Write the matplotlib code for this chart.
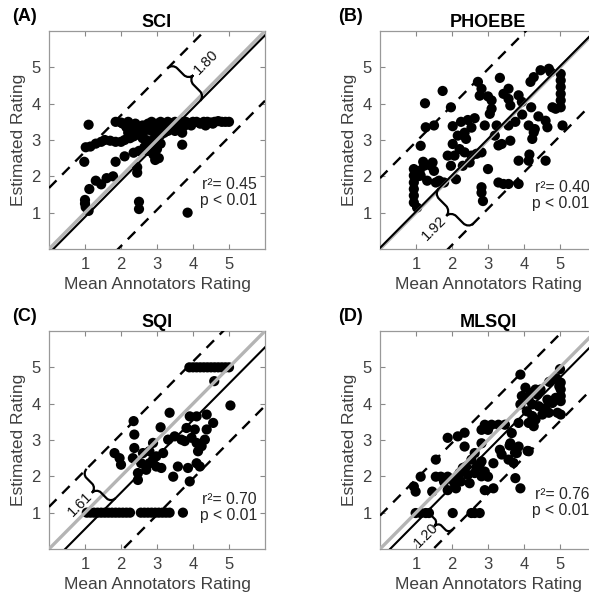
import numpy as np
import matplotlib
matplotlib.use("Agg")
import matplotlib.pyplot as plt
from matplotlib.path import Path
from matplotlib.patches import PathPatch

plt.rcParams['font.family'] = ['Liberation Sans', 'DejaVu Sans']

# ---------------- data ----------------
titles = ["SCI", "PHOEBE", "SQI", "MLSQI"]
panel_tags = ["(A)", "(B)", "(C)", "(D)"]
bias = [-0.12, 0.03, -0.45, -0.28]          # mean offset of estimate (solid black line)
limits = [1.80, 1.92, 1.61, 1.20]           # half width of agreement band (dashed)
r2_values = [0.45, 0.40, 0.70, 0.76]
p_text = ["p < 0.01"] * 4
ticks = [1, 2, 3, 4, 5]

sci_x = [1.85, 2.0, 2.2, 2.4, 2.6, 2.75, 2.85, 3.0, 3.1, 3.2, 3.3, 3.4, 3.5, 3.6, 3.7, 3.8, 3.9, 4.0, 4.1, 4.2,
         4.3, 4.4, 4.5, 4.6, 4.7, 4.8, 4.9, 5.0, 4.35, 4.55, 3.95, 3.75, 3.55, 3.35, 3.15, 2.95,
         1.02, 1.15, 1.3, 1.45, 1.55, 1.7, 1.85, 2.0, 2.1, 2.25, 2.35, 2.45, 2.55, 2.65, 2.75, 2.85, 2.95, 3.05,
         2.6, 2.7, 2.8, 2.9, 3.0, 3.2, 3.3, 3.4, 3.5, 3.6, 3.7, 2.5, 2.3, 2.15, 2.05, 2.2,
         1.1, 0.98, 1.85, 2.1, 2.35, 2.5, 2.65, 2.75, 2.9, 3.0, 3.1, 2.9, 3.7, 2.45, 2.45, 2.5, 2.5, 3.85,
         1.0, 1.0, 1.02, 1.1, 1.12, 1.3, 1.45, 1.6, 1.78, 2.95, 2.95, 3.05]
sci_y = [3.5, 3.48, 3.5, 3.45, 3.4, 3.45, 3.5, 3.45, 3.5, 3.42, 3.5, 3.45, 3.5, 3.45, 3.5, 3.5, 3.45, 3.5, 3.5, 3.45,
         3.5, 3.5, 3.48, 3.5, 3.52, 3.5, 3.5, 3.5, 3.4, 3.45, 3.4, 3.38, 3.35, 3.35, 3.3, 3.35,
         2.8, 2.82, 2.9, 2.95, 3.0, 2.98, 2.95, 2.95, 3.0, 3.05, 3.1, 3.15, 3.2, 3.25, 3.3, 3.25, 3.2, 3.3,
         3.05, 3.0, 2.95, 3.0, 3.1, 3.2, 3.25, 3.3, 3.25, 3.3, 3.2, 3.3, 3.3, 3.35, 3.45, 3.2,
         3.42, 2.4, 2.4, 2.55, 2.65, 2.7, 2.8, 2.7, 2.6, 2.75, 2.9, 2.8, 2.87, 2.25, 2.1, 1.3, 1.1, 1.0,
         1.35, 1.25, 1.15, 1.05, 1.65, 1.88, 1.78, 1.95, 2.0, 2.6, 2.45, 2.5]

phoebe_x = [1.25, 1.74, 3.33, 4.46, 4.69, 4.74, 4.27, 4.18, 2.72, 2.82, 2.77, 3.0, 3.1,
            5.02, 5.02, 5.02, 5.02, 5.02, 5.02, 4.88, 4.79, 5.07, 4.6, 4.65, 4.13, 4.27, 4.23,
            3.85, 4.13, 4.6, 3.57, 3.62, 3.85, 3.94, 3.76, 3.57, 3.19, 3.38, 3.62, 3.29, 3.0,
            2.82, 2.82, 2.86, 3.29, 3.43, 3.57, 3.85, 2.11,
            0.94, 0.94, 0.94, 0.94, 0.94, 0.94, 1.03, 1.22, 1.41, 1.13, 1.31, 1.5, 1.64, 1.78, 1.55,
            1.13, 1.27, 1.5, 1.46, 1.97, 2.02, 2.25, 2.44, 2.54, 2.63, 2.35, 2.16, 2.39, 2.02, 2.21,
            2.35, 2.54, 2.68, 2.82, 2.49, 2.3, 1.97, 1.88, 2.07, 3.1, 3.05, 3.24, 2.91, 3.43, 3.57,
            4.3, 4.2, 4.4, 3.95, 4.15, 1.05, 1.2, 1.1]
phoebe_y = [4.01, 4.35, 4.71, 4.92, 4.96, 4.87, 4.73, 4.6, 4.6, 4.41, 4.22, 4.2, 4.09,
            4.82, 4.64, 4.46, 4.27, 4.09, 3.9, 3.86, 3.9, 3.4, 3.53, 3.35, 3.4, 3.21, 3.03,
            2.43, 2.43, 2.43, 4.13, 3.95, 4.23, 4.05, 3.5, 3.4, 3.12, 2.89, 2.98, 2.85, 2.2,
            1.7, 1.55, 1.32, 1.83, 1.79, 1.79, 1.79, 1.92,
            2.2, 2.02, 1.83, 1.65, 1.47, 1.28, 1.14, 2.29, 2.29, 2.02, 1.88, 2.15, 1.88, 1.83, 1.83,
            2.84, 3.35, 3.4, 2.38, 3.9, 3.38, 3.5, 3.55, 3.34, 3.6, 3.2, 3.12, 3.03, 2.89, 2.75,
            2.66, 2.57, 2.62, 2.66, 2.38, 2.29, 2.29, 2.57, 2.57, 3.86, 3.72, 3.4, 3.4, 4.27, 4.41,
            3.3, 3.9, 3.65, 3.7, 2.6, 2.0, 2.4, 2.15]

sqi_x = [1.05, 1.15, 1.25, 1.35, 1.45, 1.55, 1.65, 1.75, 1.85, 1.95, 2.05, 2.15, 2.25,
         2.55, 2.65, 2.75, 2.85, 2.95, 3.05, 3.15, 3.25, 3.35, 3.72,
         3.9, 4.0, 4.1, 4.2, 4.3, 4.4, 4.5, 4.6, 4.7, 4.8, 4.9, 5.0, 4.59, 5.04,
         2.35, 3.35, 3.91, 4.1, 4.38, 4.56, 4.38, 4.33, 4.24, 4.14, 4.1, 3.96, 4.05, 3.82,
         3.68, 3.77, 3.49, 3.31, 3.58, 3.86, 3.91, 4.19, 3.45, 4.1,
         2.37, 2.37, 2.33, 2.61, 2.89, 2.79, 2.89, 2.98, 2.7, 2.47, 2.47, 3.17, 3.12, 2.79, 2.98, 2.56,
         1.82, 1.96, 2.0, 3.1]
sqi_y = [1.0] * 22 + [1.0,
         5.0, 5.0, 5.0, 5.0, 5.0, 5.0, 5.0, 5.0, 5.0, 5.0, 5.0, 5.0, 4.62, 3.95,
         3.52, 3.75, 3.65, 3.65, 3.7, 3.47, 3.29, 3.01, 2.83, 2.69, 2.92, 3.06, 3.29, 3.33,
         3.01, 2.97, 3.10, 3.01, 2.27, 2.23, 1.86, 2.27, 1.99, 2.36,
         3.15, 2.78, 2.5, 2.64, 2.92, 2.69, 2.46, 2.27, 2.18, 2.09, 1.9, 2.64, 2.23, 2.36, 2.55, 2.36,
         2.64, 2.5, 2.32, 3.35]

mlsqi_x = [5.02, 5.02, 5.02, 5.02, 4.98, 4.88, 4.79, 4.65, 4.6, 4.41, 4.23, 4.13, 4.18, 4.32, 4.37,
           4.04, 3.94, 3.9, 4.08, 4.23, 4.32, 4.51, 4.13, 4.27, 5.02, 4.93, 4.69, 4.46,
           5.0, 4.9, 4.7, 3.9, 4.1, 3.75, 3.6,
           2.91, 3.1, 3.29, 3.47, 2.82, 3.0, 3.66, 3.85, 3.62, 3.85, 3.8, 4.13, 3.57, 3.71, 3.76, 3.9,
           3.33, 3.38, 3.15, 2.91, 3.0, 3.15, 2.91,
           2.82, 2.63, 2.82, 2.54, 2.39, 2.3, 2.21, 2.11, 2.02, 1.88, 1.78, 1.69, 2.44, 2.68, 2.77, 2.63,
           2.49, 2.25, 2.07, 2.11, 2.82,
           1.88, 2.16, 2.35, 2.35, 1.55, 1.13, 0.94, 0.99, 1.45, 1.55, 1.88,
           0.99, 1.13, 1.27, 1.36, 2.02, 2.54, 2.63, 2.77]
mlsqi_y = [4.58, 4.39, 4.21, 4.07, 4.48, 4.16, 4.02, 4.11, 3.88, 3.93, 3.98, 4.11, 4.3, 4.39, 4.25,
           4.44, 4.21, 3.98, 3.79, 3.66, 3.56, 3.7, 3.47, 3.38, 3.7, 3.75, 3.75, 4.39,
           4.95, 4.7, 4.6, 4.8, 2.7, 2.65, 2.85,
           3.42, 3.42, 3.42, 3.42, 3.28, 3.28, 3.19, 3.47, 2.91, 2.82, 2.64, 2.69, 2.46, 2.37, 1.95, 1.67,
           2.73, 2.6, 2.36, 2.13, 1.99, 1.67, 1.62,
           2.91, 2.64, 2.41, 2.46, 2.27, 2.23, 2.09, 1.95, 1.9, 1.99, 1.85, 1.99, 2.04, 2.23, 2.32, 2.09,
           1.81, 1.86, 1.81, 1.67, 2.0,
           3.06, 3.1, 3.2, 2.82, 2.46, 1.99, 1.72, 1.58, 1.58, 1.99, 1.62,
           0.99, 0.99, 0.99, 0.99, 0.99, 0.99, 0.99, 0.99]

xs = [sci_x, phoebe_x, sqi_x, mlsqi_x]
ys = [sci_y, phoebe_y, sqi_y, mlsqi_y]

# ---------------- style / layout ----------------
W, H = 589, 600
fig = plt.figure(figsize=(W / 100, H / 100), dpi=100)
ax_w, ax_h = 216 / W, 218 / H
lefts = [49 / W, 380 / W, 49 / W, 380 / W]
bottoms = [(H - 249) / H, (H - 249) / H, (H - 549) / H, (H - 549) / H]

# brace placement: x of anchor on black line, side (+1 upper dashed, -1 lower dashed), tip dir, text offset
brace_x = [4.2, 1.63, 1.85, 1.42]
brace_side = [1, -1, 1, -1]
brace_tip = [(1, 1), (-1, -1), (-1, -1), (-1, -1)]
brace_w = [0.36, 0.38, 0.36, 0.3]
brace_txt_off = [0.86, 0.86, 0.82, 0.64]
rtext_pos = [(0.963, 0.26), (0.97, 0.245), (0.963, 0.19), (0.97, 0.215)]
tag_pos = [(-0.113, 1.065), (-0.135, 1.065), (-0.113, 1.065), (-0.135, 1.065)]

grey = '#404040'


def draw_brace(ax, p1, p2, tipdir, w=0.3, **kw):
    p1 = np.asarray(p1, float)
    p2 = np.asarray(p2, float)
    L = np.linalg.norm(p2 - p1)
    eu = (p2 - p1) / L
    ev = np.asarray(tipdir, float)
    ev = ev / np.linalg.norm(ev)
    q = 0.15 * L
    k = 0.55
    h = w / 2
    loc = [(0, 0),
           (0, k * h), (q - k * q, h), (q, h),
           (L / 2 - q, h),
           (L / 2 - q + k * q, h), (L / 2, w - k * h), (L / 2, w),
           (L / 2, w - k * h), (L / 2 + q - k * q, h), (L / 2 + q, h),
           (L - q, h),
           (L - q + k * q, h), (L, k * h), (L, 0)]
    codes = [Path.MOVETO] + [Path.CURVE4] * 3 + [Path.LINETO] + [Path.CURVE4] * 6 + [Path.LINETO] + [Path.CURVE4] * 3
    verts = [p1 + u * eu + v * ev for u, v in loc]
    ax.add_patch(PathPatch(Path(verts, codes), fill=False, **kw))
    return (p1 + p2) / 2, ev


for i in range(4):
    ax = fig.add_axes([lefts[i], bottoms[i], ax_w, ax_h])
    ax.scatter(xs[i], ys[i], s=54, color='black', edgecolors='none', zorder=2)
    line_x = np.array([0, 6])
    b, d = bias[i], limits[i]
    ax.plot(line_x, line_x, color='#b4b4b4', lw=2.4, zorder=3, solid_capstyle='butt')
    ax.plot(line_x, line_x + b, color='black', lw=1.5, zorder=4)
    ax.plot(line_x, line_x + b + d, color='black', lw=1.7, dashes=(4.5, 3.4), zorder=4)
    ax.plot(line_x, line_x + b - d, color='black', lw=1.7, dashes=(4.5, 3.4), zorder=4)

    # brace between black line and a dashed line
    x0 = brace_x[i]
    pb = (x0, x0 + b)
    s = brace_side[i]
    po = (x0 - s * d / 2, x0 + b + s * d / 2)
    mid, ev = draw_brace(ax, pb, po, brace_tip[i], w=brace_w[i], color='black', lw=1.6, zorder=5)
    tpos = mid + ev * brace_txt_off[i]
    ax.text(tpos[0], tpos[1], f"{d:.2f}", rotation=45, ha='center', va='center',
            fontsize=10.5, color='#111111', rotation_mode='anchor', zorder=6)

    rx, ry = rtext_pos[i]
    ax.text(rx, ry, f"r\u00b2= {r2_values[i]:.2f}\n{p_text[i]}", transform=ax.transAxes,
            ha='right', va='center', fontsize=11.3, color='#262626', linespacing=1.1)

    ax.set_xlim(0, 6)
    ax.set_ylim(0, 6)
    ax.set_xticks(ticks)
    ax.set_yticks(ticks)
    ax.tick_params(direction='in', length=3.5, width=0.8, color='#888888', top=True, right=True,
                   labelsize=12, labelcolor=grey, pad=6)
    for sp in ax.spines.values():
        sp.set_color('#999999')
        sp.set_linewidth(0.9)
    ax.set_xlabel("Mean Annotators Rating", fontsize=12.5, color=grey, labelpad=3)
    ax.set_ylabel("Estimated Rating", fontsize=12.5, color=grey, labelpad=4)
    ax.set_title(titles[i], fontsize=13, fontweight='bold', color='black', pad=3)
    tx, ty = tag_pos[i]
    ax.text(tx, ty, panel_tags[i], transform=ax.transAxes, fontsize=13,
            fontweight='bold', color='black', ha='center', va='center')

fig.savefig("out.png", dpi=100)
